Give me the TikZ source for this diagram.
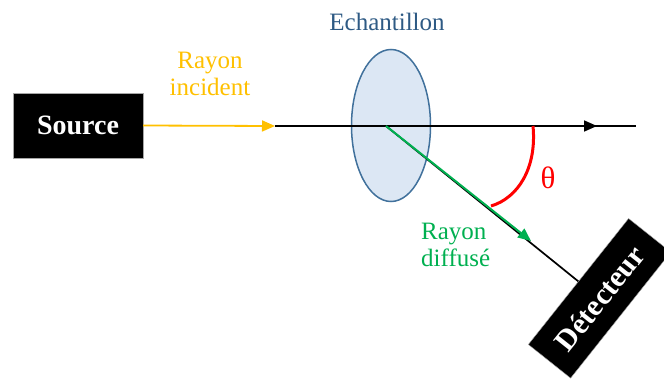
\documentclass[tikz,border=0pt]{standalone}
\usepackage{fontspec}
\setmainfont{Liberation Serif}
\usetikzlibrary{arrows.meta,shapes.geometric}
\definecolor{incol}{HTML}{FFC000}
\definecolor{difcol}{HTML}{00B050}
\definecolor{echcol}{HTML}{2E5A84}
\definecolor{ellfill}{HTML}{DCE7F4}
\definecolor{elldraw}{HTML}{41719C}
\begin{document}
\begin{tikzpicture}[x=1pt,y=-1pt,
  blackbox/.style={fill=black,draw=gray!70,text=white,inner sep=0pt},
  lbl/.style={font=\fontsize{25}{27}\selectfont,inner sep=0pt},
  tip/.style={-{Triangle[length=13pt,width=11pt]}}]
\useasboundingbox (0,0) rectangle (664,378);
\node[blackbox,minimum width=130pt,minimum height=65pt,font=\fontsize{28}{30}\selectfont\bfseries] (src) at (78,125.5) {Source};
\node[draw=elldraw,fill=ellfill,line width=1.5pt,ellipse,minimum width=79pt,minimum height=152pt,inner sep=0pt] (ech) at (391,125.5) {};
\coordinate (c) at (386,126);
\coordinate (inc) at (275,126);
\coordinate (mid) at (597,126);
\coordinate (end) at (636,126);
\coordinate (gtip) at (531,241);
\node[blackbox,minimum width=161pt,minimum height=54pt,rotate=51.5,font=\fontsize{30}{32}\selectfont\bfseries] (det) at (599.6,298.3) {Détecteur};
\draw[line width=1.7pt] (inc) -- (end);
\draw[line width=1.7pt,tip] (inc) -- (mid);
\draw[incol,line width=1.8pt,tip] (src.east) -- (inc);
\draw[line width=1.7pt] (c) -- (det.north);
\draw[difcol,line width=2pt,tip] (c) -- (gtip);
\coordinate (a1) at (533,126);
\coordinate (a2) at (491,206);
\draw[red,line width=3pt] (a1) .. controls (537,168) and (518,198) .. (a2);
\node[red,font=\fontsize{31}{33}\selectfont,inner sep=0pt] (th) at (548,178) {θ};
\node[lbl,text=echcol] (echl) at (387,22) {Echantillon};
\node[lbl,text=incol,align=center] (incl) at (210,74) {Rayon\\incident};
\node[lbl,text=difcol,align=left,anchor=west] (difl) at (421,245) {Rayon\\diffusé};
\end{tikzpicture}
\end{document}
